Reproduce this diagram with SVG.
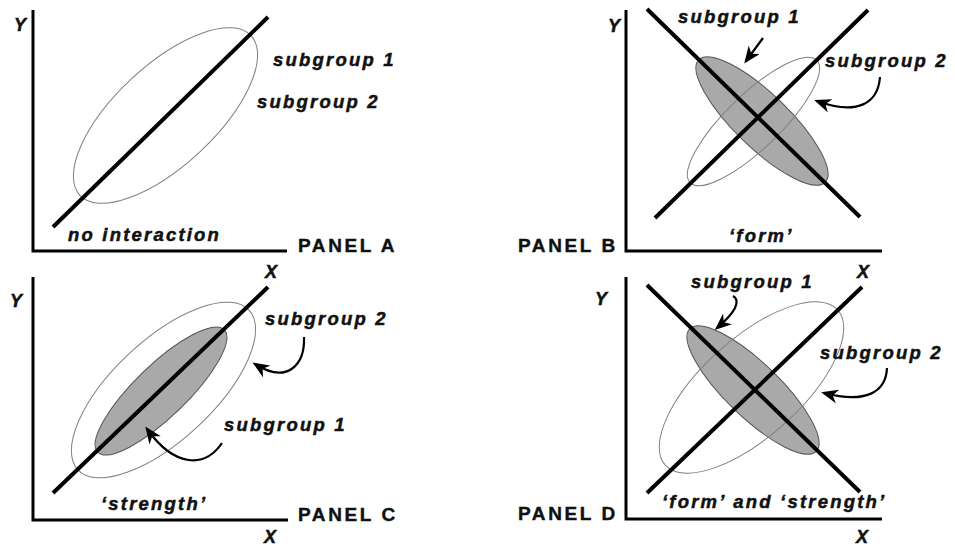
<svg xmlns="http://www.w3.org/2000/svg" width="955" height="546" viewBox="0 0 955 546">
<style>
.lbl{font-family:"Liberation Sans",Arial,sans-serif;font-weight:bold;font-style:italic;font-size:18.5px;letter-spacing:2.2px;fill:#111;stroke:#111;stroke-width:0.5}
.ax{font-family:"Liberation Sans",Arial,sans-serif;font-weight:bold;font-style:italic;font-size:18px;fill:#111;stroke:#111;stroke-width:0.5}
.pn{font-family:"Liberation Sans",Arial,sans-serif;font-weight:bold;font-size:19px;letter-spacing:2.6px;fill:#111;stroke:#111;stroke-width:0.4}
.axis{fill:none;stroke:#000;stroke-width:3}
.reg{stroke:#000;stroke-width:4;fill:none}
.thin{fill:none;stroke:#808080;stroke-width:1}
.gray{fill:#a9a9a9;stroke:#555;stroke-width:1}
.arr{fill:none;stroke:#000;stroke-width:2.2;marker-end:url(#ah)}
</style>
<defs>
<marker id="ah" viewBox="0 0 17 14" refX="14" refY="7" markerWidth="17" markerHeight="14" markerUnits="userSpaceOnUse" orient="auto">
<path d="M0,0 L17,7 L0,14 L5,7 z" fill="#000"/>
</marker>
</defs>
<rect width="955" height="546" fill="#fff"/>

<g id="panel-a">
<path class="axis" d="M33,10 V251 H287"/>
<ellipse class="thin" cx="165.5" cy="115.5" rx="117" ry="50" transform="rotate(-43 165.5 115.5)"/>
<line class="reg" x1="53" y1="227" x2="268" y2="17"/>
<text class="ax" x="14" y="31">Y</text>
<text class="ax" x="265" y="278">X</text>
<text class="lbl" x="273" y="66">subgroup 1</text>
<text class="lbl" x="257" y="108">subgroup 2</text>
<text class="lbl" x="68" y="241">no interaction</text>
<text class="pn" x="298" y="252">PANEL A</text>
</g>

<g id="panel-b">
<path class="axis" d="M626,10 V251 H882"/>
<ellipse class="gray" cx="762" cy="121" rx="88" ry="27" transform="rotate(44 762 121)"/>
<ellipse class="thin" cx="753.5" cy="121.5" rx="88" ry="27" transform="rotate(-44 753.5 121.5)"/>
<line class="reg" x1="647" y1="9" x2="860" y2="217"/>
<line class="reg" x1="655" y1="218" x2="868" y2="10"/>
<text class="ax" x="608" y="32">Y</text>
<text class="ax" x="857" y="278">X</text>
<text class="lbl" x="678" y="23">subgroup 1</text>
<text class="lbl" x="825" y="67">subgroup 2</text>
<text class="lbl" x="729" y="242">‘form’</text>
<text class="pn" x="518" y="252">PANEL B</text>
</g>

<g id="panel-c">
<path class="axis" d="M33,277 V520 H288"/>
<ellipse class="thin" cx="163.5" cy="390" rx="117" ry="50" transform="rotate(-43 163.5 390)"/>
<ellipse class="gray" cx="161" cy="391" rx="88" ry="26" transform="rotate(-44 161 391)"/>
<line class="reg" x1="53" y1="493" x2="268" y2="287"/>
<text class="ax" x="10" y="307">Y</text>
<text class="ax" x="264" y="543">X</text>
<text class="lbl" x="265" y="325">subgroup 2</text>
<text class="lbl" x="224" y="431">subgroup 1</text>
<text class="lbl" x="101" y="510">‘strength’</text>
<text class="pn" x="298" y="521">PANEL C</text>
</g>

<g id="panel-d">
<path class="axis" d="M626,277 V519 H882"/>
<ellipse class="gray" cx="753" cy="390" rx="88" ry="27" transform="rotate(44 753 390)"/>
<ellipse class="thin" cx="751.5" cy="387.5" rx="116" ry="49" transform="rotate(-42 751.5 387.5)"/>
<line class="reg" x1="647" y1="285" x2="860" y2="492"/>
<line class="reg" x1="647" y1="493" x2="862" y2="287"/>
<text class="ax" x="595" y="305">Y</text>
<text class="ax" x="856" y="543">X</text>
<text class="lbl" x="691" y="288">subgroup 1</text>
<text class="lbl" x="820" y="359">subgroup 2</text>
<text class="lbl" x="662" y="508">‘form’ and ‘strength’</text>
<text class="pn" x="518" y="520">PANEL D</text>
</g>

<g id="connectors">
<path class="arr" d="M763,38 L746,61"/>
<path class="arr" d="M880,77 C878,103 858,116 817,101"/>
<path class="arr" d="M304,337 C305,364 288,385 255,364"/>
<path class="arr" d="M222,443 C205,468 175,468 147,429"/>
<path class="arr" d="M733,296 Q739,299 735,308 Q731,316 717,328"/>
<path class="arr" d="M887,368 C886,392 866,404 824,393"/>
</g>
</svg>
